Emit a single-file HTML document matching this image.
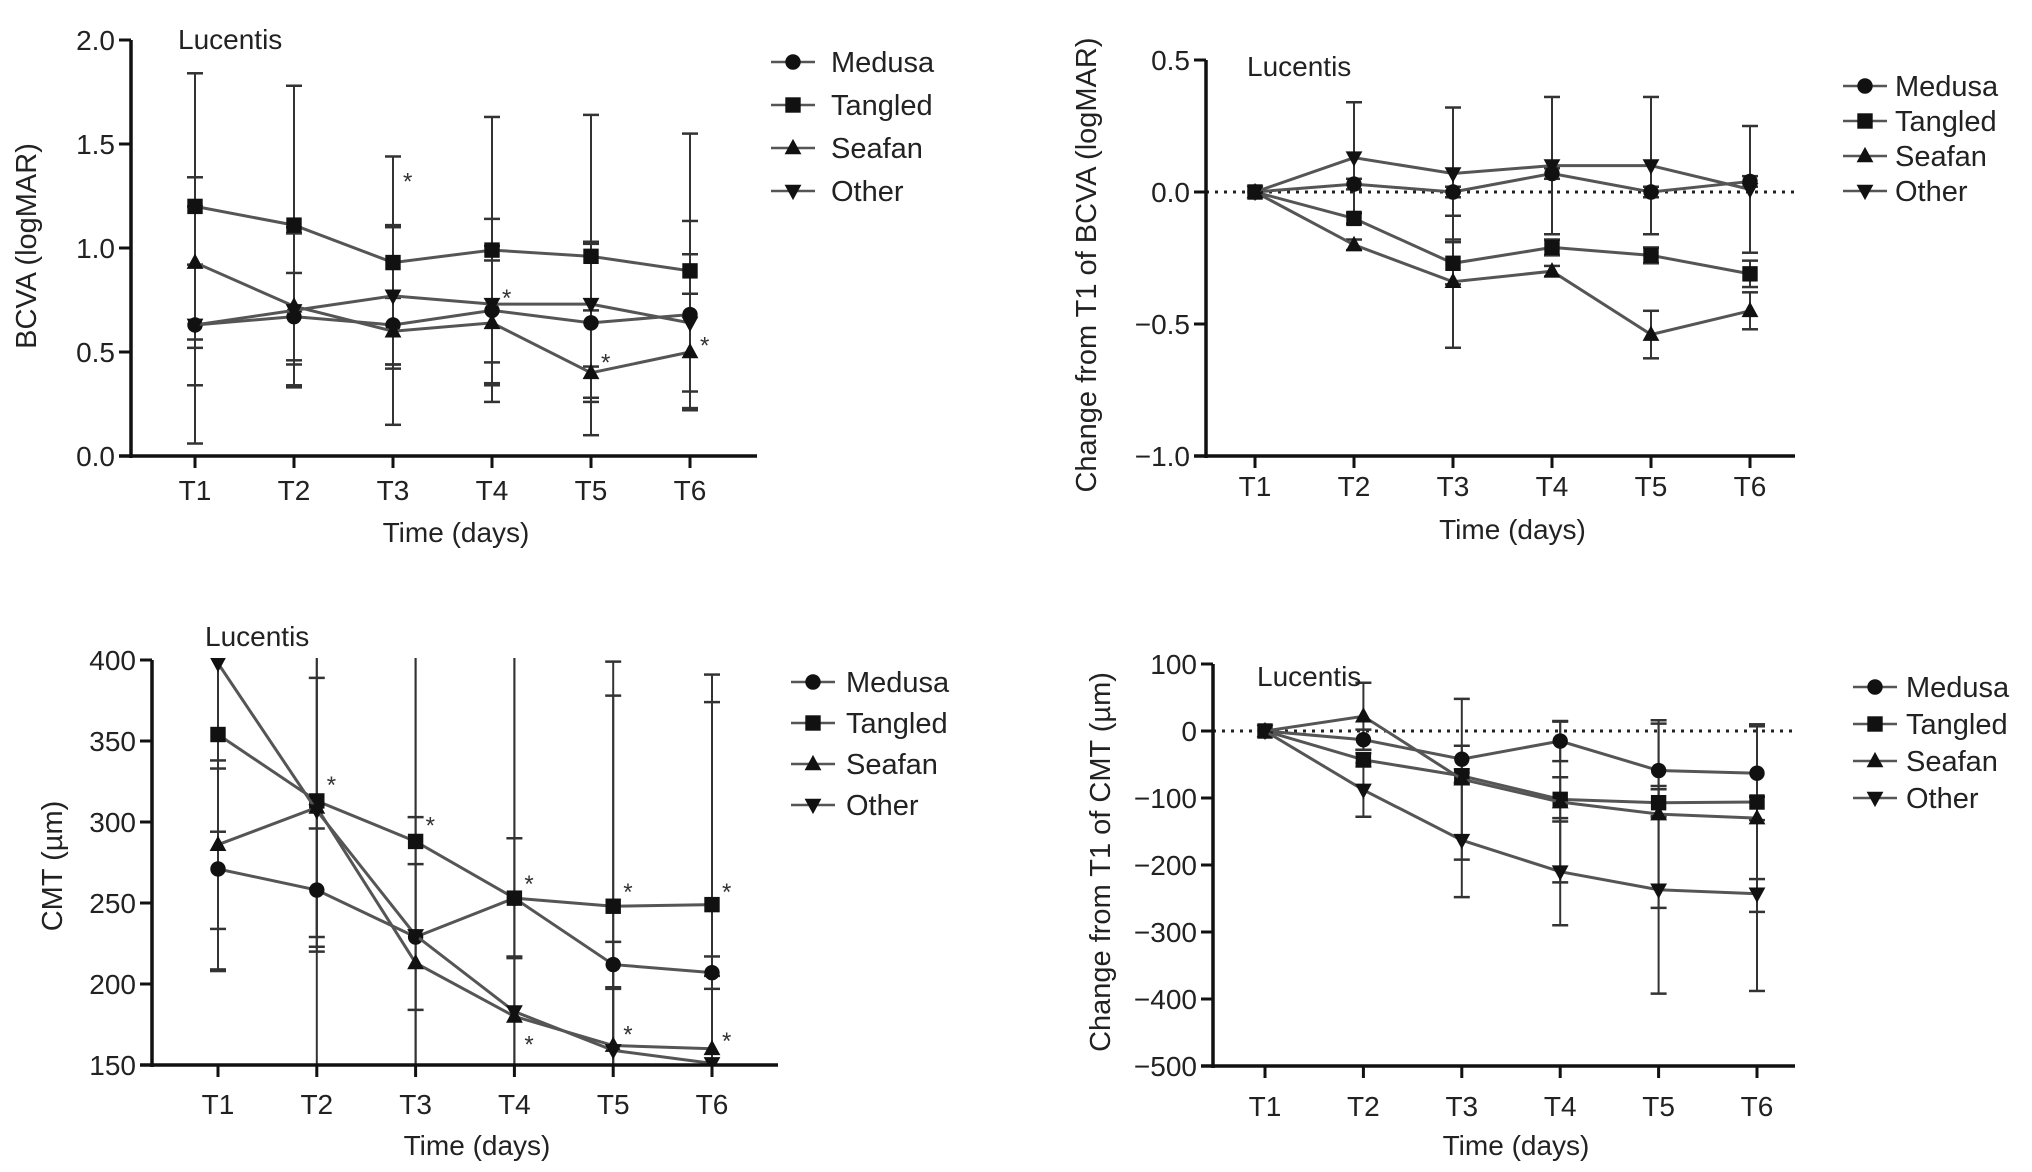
<!DOCTYPE html>
<html><head><meta charset="utf-8">
<style>
html,body{margin:0;padding:0;background:#fff;width:2032px;height:1172px;overflow:hidden;}
svg{display:block;font-family:"Liberation Sans",Arial,sans-serif;}
</style></head>
<body>
<svg id="fig" width="2032" height="1172" viewBox="0 0 2032 1172" xmlns="http://www.w3.org/2000/svg"></svg>
<script>
const categories = ["T1","T2","T3","T4","T5","T6"];
const seriesNames = ["Medusa","Tangled","Seafan","Other"];

// Panel A: BCVA
const bcvaMedusa = [0.63,0.67,0.63,0.70,0.64,0.68];
const bcvaTangled = [1.20,1.11,0.93,0.99,0.96,0.89];
const bcvaSeafan = [0.93,0.72,0.60,0.64,0.40,0.50];
const bcvaOther = [0.63,0.70,0.77,0.73,0.73,0.64];
const bcvaErrMedusa = [0.29,0.21,0.48,0.44,0.38,0.45];
const bcvaErrTangled = [0.64,0.67,0.51,0.64,0.68,0.66];
const bcvaErrSeafan = [0.41,0.38,0.16,0.30,0.30,0.28];
const bcvaErrOther = [0.57,0.37,0.33,0.28,0.30,0.33];
const bcvaTicks = [0,0.5,1.0,1.5,2.0];
const bcvaTickLabels = ["0.0","0.5","1.0","1.5","2.0"];
const bcvaStarIdx = [2,3,4,5];
const bcvaStarVal = [1.33,0.77,0.46,0.54];

// Panel B: change BCVA
const dBcvaMedusa = [0,0.03,0,0.07,0,0.04];
const dBcvaTangled = [0,-0.10,-0.27,-0.21,-0.24,-0.31];
const dBcvaSeafan = [0,-0.20,-0.34,-0.30,-0.54,-0.45];
const dBcvaOther = [0,0.13,0.07,0.10,0.10,0.01];
const dBcvaErrMedusa = [0,0.02,0.02,0.02,0.02,0.02];
const dBcvaErrTangled = [0,0.02,0.08,0.03,0.03,0.05];
const dBcvaErrSeafan = [0,0.02,0.25,0.02,0.09,0.07];
const dBcvaErrOther = [0,0.21,0.25,0.26,0.26,0.24];
const dBcvaTicks = [-1.0,-0.5,0,0.5];
const dBcvaTickLabels = ["\u22121.0","\u22120.5","0.0","0.5"];

// Panel C: CMT
const cmtMedusa = [271,258,229,253,212,207];
const cmtTangled = [354,313,288,253,248,249];
const cmtSeafan = [286,309,213,180,162,160];
const cmtOther = [398,307,230,183,159,151];
const cmtErrMedusa = [62,38,45,37,14,10];
const cmtErrTangled = [60,90,180,150,130,125];
const cmtErrSeafan = [52,80,90,37,35,45];
const cmtErrOther = [190,210,230,240,240,240];
const cmtTicks = [150,200,250,300,350,400];
const cmtTickLabels = ["150","200","250","300","350","400"];
const cmtStarIdx = [1,2,3,3,4,4,5,5];
const cmtStarVal = [324,299,263,164,258,170,258,166];

// Panel D: change CMT
const dCmtMedusa = [0,-13,-42,-15,-59,-63];
const dCmtTangled = [0,-43,-67,-102,-107,-106];
const dCmtSeafan = [0,22,-72,-106,-124,-130];
const dCmtOther = [0,-88,-163,-210,-237,-243];
const dCmtErrMedusa = [0,15,20,30,70,70];
const dCmtErrTangled = [0,10,10,33,20,115];
const dCmtErrSeafan = [0,50,120,120,140,140];
const dCmtErrOther = [0,40,85,80,155,145];
const dCmtTicks = [-500,-400,-300,-200,-100,0,100];
const dCmtTickLabels = ["\u2212500","\u2212400","\u2212300","\u2212200","\u2212100","0","100"];

const NS = "http://www.w3.org/2000/svg";
const svg = document.getElementById("fig");
function mk(tag, attrs, parent){
  const e = document.createElementNS(NS, tag);
  for (const k in attrs) e.setAttribute(k, attrs[k]);
  (parent||svg).appendChild(e);
  return e;
}
function marker(g, type, x, y, s){
  let e;
  if (type===0){ e = mk("circle",{cx:x,cy:y,r:s*0.55,fill:"#111"},g); }
  else if (type===1){ e = mk("rect",{x:x-s*0.55,y:y-s*0.55,width:s*1.1,height:s*1.1,fill:"#111"},g); }
  else if (type===2){ e = mk("polygon",{points:`${x},${y-s*0.65} ${x-s*0.6},${y+s*0.45} ${x+s*0.6},${y+s*0.45}`,fill:"#111"},g); }
  else { e = mk("polygon",{points:`${x},${y+s*0.65} ${x-s*0.6},${y-s*0.45} ${x+s*0.6},${y-s*0.45}`,fill:"#111"},g); }
  return e;
}

function drawPanel(p){
  const g = mk("g",{});
  
  
  const y0 = p.ticks[0], y1 = p.ticks[p.ticks.length-1];
  const yS = v => p.yBot + (v - y0)/(y1 - y0)*(p.yTop - p.yBot);
  const xS = i => p.x1 + i*(p.x6 - p.x1)/5;
  const clipId = "clip-"+p.name;
  const cp = mk("clipPath",{id:clipId},g);
  mk("rect",{x:p.axX-40,y:p.yTop-2,width:p.axEnd-p.axX+80,height:p.yBot-p.yTop+2},cp);
  const plot = mk("g",{"clip-path":`url(#${clipId})`},g);
  
  

  if (p.zeroLine){
    const zl = mk("line",{x1:p.axX,x2:p.axEnd,y1:yS(0),y2:yS(0),stroke:"#222","stroke-width":3,"stroke-dasharray":"3,6"},plot);
    
    
  }
  p.series.forEach((vals, si) => {
    vals.forEach((v, i) => {
      const e = p.errs[si][i];
      if (!e) return;
      const x = xS(i);
      const eb = mk("g",{},plot);
      
      
      mk("line",{x1:x,x2:x,y1:yS(v+e),y2:yS(v-e),stroke:"#333","stroke-width":2},eb);
      mk("line",{x1:x-8,x2:x+8,y1:yS(v+e),y2:yS(v+e),stroke:"#333","stroke-width":2.5},eb);
      mk("line",{x1:x-8,x2:x+8,y1:yS(v-e),y2:yS(v-e),stroke:"#333","stroke-width":2.5},eb);
    });
  });
  p.series.forEach((vals, si) => {
    const pts = vals.map((v,i)=>`${xS(i)},${yS(v)}`).join(" ");
    const ln = mk("polyline",{points:pts,fill:"none",stroke:"#555","stroke-width":3},plot);
    
    
    vals.forEach((v,i) => {
      const m = marker(plot, si, xS(i), yS(v), 14);
      
      
    });
  });
  if (p.starIdx){
    p.starIdx.forEach((ci, k) => {
      const t = mk("text",{x:xS(ci)+10,y:yS(p.starVal[k])+10,"font-size":24,fill:"#333"},g);
      t.textContent = "*";
      
      
    });
  }
  const ya = mk("line",{x1:p.axX,x2:p.axX,y1:p.yTop,y2:p.yBot+2,stroke:"#111","stroke-width":3.5},g);
  
  
  const xa = mk("line",{x1:p.axX-12,x2:p.axEnd,y1:p.yBot,y2:p.yBot,stroke:"#111","stroke-width":3.5},g);
  
  
  p.ticks.forEach((t,k) => {
    mk("line",{x1:p.axX-12,x2:p.axX,y1:yS(t),y2:yS(t),stroke:"#111","stroke-width":3},g);
    const tl = mk("text",{x:p.axX-16,y:yS(t)+10,"font-size":28,"text-anchor":"end",fill:"#222"},g);
    tl.textContent = p.tickLabels[k];
    
    
  });
  categories.forEach((c,i) => {
    mk("line",{x1:xS(i),x2:xS(i),y1:p.yBot,y2:p.yBot+12,stroke:"#111","stroke-width":3},g);
    const tl = mk("text",{x:xS(i),y:p.tickY+10,"font-size":28,"text-anchor":"middle",fill:"#222"},g);
    tl.textContent = c;
    
    
  });
  const xt = mk("text",{x:(p.axX+p.axEnd)/2 + 12,y:p.titleY+10,"font-size":28,"text-anchor":"middle",fill:"#222"},g);
  xt.textContent = "Time (days)";
  
  
  const yt = mk("text",{x:0,y:0,"font-size":p.ylFont,"text-anchor":"middle",fill:"#222",transform:`translate(${p.ylX+10},${p.ylY}) rotate(-90)`},g);
  yt.textContent = p.yLabel;
  
  
  const lu = mk("text",{x:p.lucX,y:p.lucY+10,"font-size":28,fill:"#222"},g);
  lu.textContent = "Lucentis";
  
  
  seriesNames.forEach((n, si) => {
    const ly = p.legY + si*p.legGap;
    const le = mk("g",{},g);
    
    
    mk("line",{x1:p.legX-22,x2:p.legX+22,y1:ly,y2:ly,stroke:"#555","stroke-width":2.5},le);
    marker(le, si, p.legX, ly, 14);
    const t = mk("text",{x:p.legTX,y:ly+10,"font-size":29,fill:"#222"},le);
    t.textContent = n;
  });
}

drawPanel({name:"bcva-panel", series:[bcvaMedusa,bcvaTangled,bcvaSeafan,bcvaOther],
  errs:[bcvaErrMedusa,bcvaErrTangled,bcvaErrSeafan,bcvaErrOther], ticks:bcvaTicks, tickLabels:bcvaTickLabels,
  starIdx:bcvaStarIdx, starVal:bcvaStarVal,
  axX:131, axEnd:757, yTop:40, yBot:456, x1:195, x6:690, tickY:490, titleY:532,
  yLabel:"BCVA (logMAR)", ylX:26, ylY:246, ylFont:29, lucX:178, lucY:39,
  legX:793, legTX:831, legY:62, legGap:43});

drawPanel({name:"bcva-change-panel", series:[dBcvaMedusa,dBcvaTangled,dBcvaSeafan,dBcvaOther],
  errs:[dBcvaErrMedusa,dBcvaErrTangled,dBcvaErrSeafan,dBcvaErrOther], ticks:dBcvaTicks, tickLabels:dBcvaTickLabels,
  zeroLine:true,
  axX:1206, axEnd:1795, yTop:60, yBot:456, x1:1255, x6:1750, tickY:486, titleY:529,
  yLabel:"Change from T1 of BCVA (logMAR)", ylX:1086, ylY:265, ylFont:29, lucX:1247, lucY:66,
  legX:1865, legTX:1895, legY:86, legGap:35});

drawPanel({name:"cmt-panel", series:[cmtMedusa,cmtTangled,cmtSeafan,cmtOther],
  errs:[cmtErrMedusa,cmtErrTangled,cmtErrSeafan,cmtErrOther], ticks:cmtTicks, tickLabels:cmtTickLabels,
  starIdx:cmtStarIdx, starVal:cmtStarVal,
  axX:152, axEnd:778, yTop:660, yBot:1065, x1:218, x6:712, tickY:1104, titleY:1145,
  yLabel:"CMT (\u00b5m)", ylX:52, ylY:866, ylFont:29, lucX:205, lucY:636,
  legX:813, legTX:846, legY:682, legGap:41});

drawPanel({name:"cmt-change-panel", series:[dCmtMedusa,dCmtTangled,dCmtSeafan,dCmtOther],
  errs:[dCmtErrMedusa,dCmtErrTangled,dCmtErrSeafan,dCmtErrOther], ticks:dCmtTicks, tickLabels:dCmtTickLabels,
  zeroLine:true,
  axX:1213, axEnd:1795, yTop:664, yBot:1066, x1:1265, x6:1757, tickY:1106, titleY:1145,
  yLabel:"Change from T1 of CMT (\u00b5m)", ylX:1100, ylY:862, ylFont:29, lucX:1257, lucY:676,
  legX:1875, legTX:1906, legY:687, legGap:37});
</script>
</body></html>
